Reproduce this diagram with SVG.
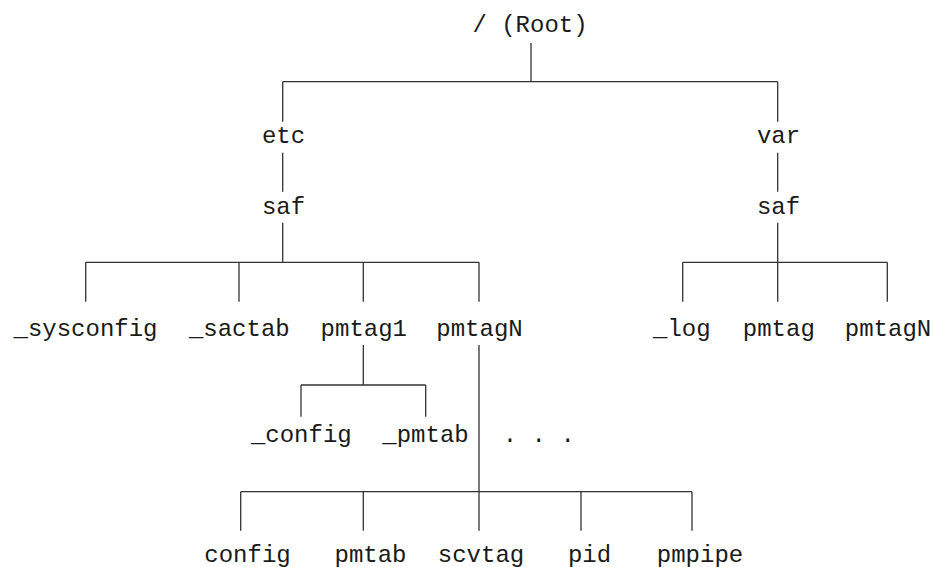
<svg xmlns="http://www.w3.org/2000/svg" width="934" height="567" viewBox="0 0 934 567">
<style>
.t{font-family:"Liberation Mono","DejaVu Sans Mono",monospace;font-size:24px;fill:#1a1a1a;text-anchor:middle}
.c{fill:none;stroke:#333;stroke-width:1.3}
</style>
<rect width="934" height="567" fill="#fff"/>
<g id="connectors" class="c">
<path d="M531 43V81.7M282.7 81.7H777.7M282.7 81.7V121.7M777.7 81.7V121.7"/>
<path d="M282.7 152.7V191.7M777.7 152.7V191.7"/>
<path d="M282.7 222.7V262.3M85.7 262.3H479M85.7 262.3V301.7M239 262.3V301.7M363.3 262.3V301.7M479 262.3V301.7"/>
<path d="M777.7 222.7V262.3M682.7 262.3H887.3M682.7 262.3V301.7M777.7 262.3V301.7M887.3 262.3V301.7"/>
<path d="M363.3 345V385M301 385H425.7M301 385V416.7M425.7 385V416.7"/>
<path d="M479 345V491.7M240.7 491.7H692M240.7 491.7V530.7M363.3 491.7V530.7M479 491.7V530.7M581 491.7V530.7M692 491.7V530.7"/>
</g>
<g id="root"><text class="t" x="530" y="31.7">/ (Root)</text></g>
<g id="etc"><text class="t" x="283.5" y="142.7">etc</text></g>
<g id="var"><text class="t" x="778.5" y="142.7">var</text></g>
<g id="etc-saf"><text class="t" x="283.5" y="214">saf</text></g>
<g id="var-saf"><text class="t" x="778.5" y="214">saf</text></g>
<g id="sysconfig"><text class="t" x="85.5" y="336">_sysconfig</text></g>
<g id="sactab"><text class="t" x="239.3" y="336">_sactab</text></g>
<g id="pmtag1"><text class="t" x="363.8" y="336">pmtag1</text></g>
<g id="pmtagN-etc"><text class="t" x="479.5" y="336">pmtagN</text></g>
<g id="log"><text class="t" x="681.8" y="336">_log</text></g>
<g id="pmtag"><text class="t" x="778.8" y="336">pmtag</text></g>
<g id="pmtagN-var"><text class="t" x="888" y="336">pmtagN</text></g>
<g id="config-1"><text class="t" x="301.3" y="441.7">_config</text></g>
<g id="pmtab-1"><text class="t" x="425.5" y="441.7">_pmtab</text></g>
<g id="ellipsis"><text class="t" x="538.8" y="441.7">. . .</text></g>
<g id="config"><text class="t" x="247.5" y="561.7">config</text></g>
<g id="pmtab"><text class="t" x="370.5" y="561.7">pmtab</text></g>
<g id="scvtag"><text class="t" x="481" y="561.7">scvtag</text></g>
<g id="pid"><text class="t" x="589.5" y="561.7">pid</text></g>
<g id="pmpipe"><text class="t" x="700" y="561.7">pmpipe</text></g>
</svg>
